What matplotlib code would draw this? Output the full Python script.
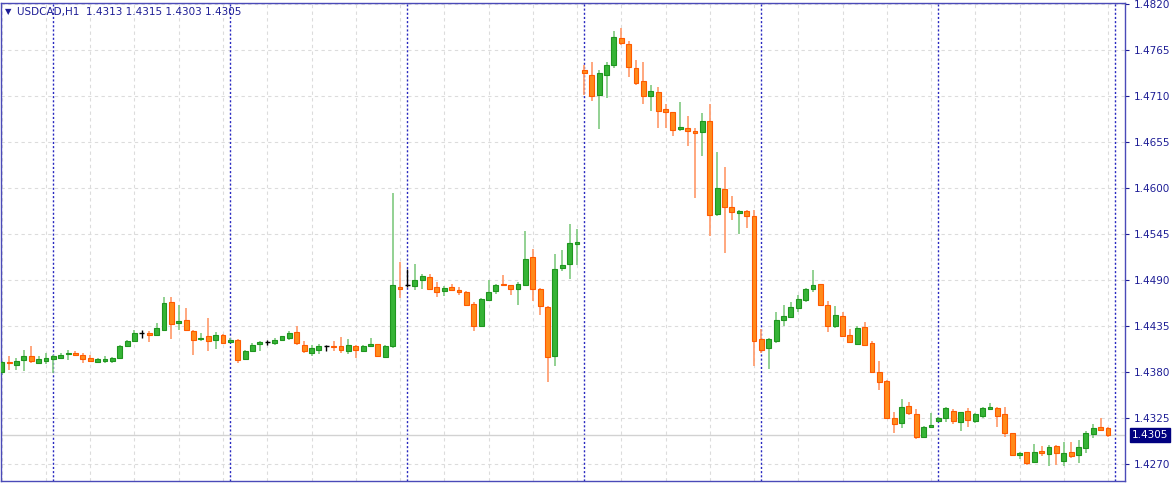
import numpy as np
import matplotlib
matplotlib.use("Agg")
from matplotlib import pyplot as plt

symbol = "USDCAD,H1"

opens = [
    1.4380, 1.4392, 1.4389, 1.4395, 1.4400, 1.4391, 1.4393, 1.4396, 1.4397, 1.4402,
    1.4403, 1.4401, 1.4397, 1.4392, 1.4394, 1.4393, 1.4397, 1.4411, 1.4417, 1.4427,
    1.4427, 1.4425, 1.4431, 1.4464, 1.4439, 1.4443, 1.4430, 1.4420, 1.4423, 1.4419,
    1.4425, 1.4416, 1.4419, 1.4396, 1.4406, 1.4414, 1.4416, 1.4415, 1.4419, 1.4421,
    1.4428, 1.4413, 1.4403, 1.4407, 1.4411, 1.4412, 1.4411, 1.4406, 1.4412, 1.4406,
    1.4412, 1.4414, 1.4398, 1.4412, 1.4482, 1.4485, 1.4483, 1.4491, 1.4494, 1.4482,
    1.4477, 1.4482, 1.4479, 1.4476, 1.4462, 1.4435, 1.4467, 1.4477, 1.4486, 1.4484,
    1.4480, 1.4485, 1.4518, 1.4480, 1.4458, 1.4400, 1.4505, 1.4509, 1.4534, 1.4742,
    1.4736, 1.4712, 1.4736, 1.4747, 1.4780, 1.4773, 1.4744, 1.4728, 1.4710, 1.4715,
    1.4695, 1.4691, 1.4671, 1.4672, 1.4668, 1.4667, 1.4680, 1.4569, 1.4599, 1.4578,
    1.4571, 1.4573, 1.4567, 1.4420, 1.4409, 1.4418, 1.4443, 1.4446, 1.4457, 1.4467,
    1.4480, 1.4486, 1.4461, 1.4435, 1.4447, 1.4425, 1.4414, 1.4434, 1.4415, 1.4381,
    1.4370, 1.4326, 1.4319, 1.4340, 1.4330, 1.4303, 1.4315, 1.4322, 1.4326, 1.4334,
    1.4321, 1.4334, 1.4322, 1.4328, 1.4336, 1.4337, 1.4330, 1.4307, 1.4281, 1.4285,
    1.4273, 1.4286, 1.4282, 1.4292, 1.4274, 1.4285, 1.4281, 1.4289, 1.4306, 1.4315,
    1.4313,
]
highs = [
    1.4393, 1.4399, 1.4397, 1.4407, 1.4411, 1.4399, 1.4403, 1.4401, 1.4403, 1.4407,
    1.4405, 1.4403, 1.4401, 1.4397, 1.4399, 1.4398, 1.4413, 1.4419, 1.4431, 1.4431,
    1.4430, 1.4439, 1.4470, 1.4470, 1.4460, 1.4457, 1.4431, 1.4427, 1.4445, 1.4428,
    1.4426, 1.4421, 1.4420, 1.4407, 1.4415, 1.4417, 1.4419, 1.4421, 1.4424, 1.4429,
    1.4435, 1.4417, 1.4413, 1.4414, 1.4413, 1.4417, 1.4422, 1.4420, 1.4413, 1.4413,
    1.4421, 1.4414, 1.4413, 1.4594, 1.4512, 1.4504, 1.4509, 1.4498, 1.4498, 1.4488,
    1.4483, 1.4486, 1.4482, 1.4477, 1.4464, 1.4469, 1.4490, 1.4486, 1.4496, 1.4485,
    1.4488, 1.4549, 1.4528, 1.4481, 1.4459, 1.4522, 1.4526, 1.4557, 1.4551, 1.4747,
    1.4751, 1.4742, 1.4751, 1.4788, 1.4792, 1.4776, 1.4753, 1.4751, 1.4724, 1.4721,
    1.4701, 1.4691, 1.4703, 1.4686, 1.4672, 1.4690, 1.4701, 1.4643, 1.4625, 1.4591,
    1.4574, 1.4574, 1.4574, 1.4432, 1.4421, 1.4452, 1.4460, 1.4464, 1.4472, 1.4481,
    1.4502, 1.4486, 1.4465, 1.4459, 1.4452, 1.4432, 1.4435, 1.4440, 1.4417, 1.4393,
    1.4371, 1.4332, 1.4348, 1.4344, 1.4336, 1.4316, 1.4331, 1.4327, 1.4338, 1.4336,
    1.4333, 1.4337, 1.4331, 1.4338, 1.4343, 1.4338, 1.4338, 1.4308, 1.4285, 1.4285,
    1.4294, 1.4292, 1.4293, 1.4293, 1.4297, 1.4297, 1.4299, 1.4310, 1.4318, 1.4326,
    1.4315,
]
lows = [
    1.4377, 1.4383, 1.4383, 1.4382, 1.4391, 1.4390, 1.4390, 1.4379, 1.4396, 1.4395,
    1.4400, 1.4391, 1.4392, 1.4391, 1.4391, 1.4391, 1.4396, 1.4410, 1.4416, 1.4421,
    1.4416, 1.4424, 1.4430, 1.4420, 1.4431, 1.4429, 1.4401, 1.4417, 1.4405, 1.4408,
    1.4414, 1.4415, 1.4391, 1.4395, 1.4404, 1.4405, 1.4413, 1.4413, 1.4418, 1.4419,
    1.4413, 1.4403, 1.4400, 1.4402, 1.4405, 1.4405, 1.4403, 1.4402, 1.4397, 1.4405,
    1.4410, 1.4398, 1.4397, 1.4409, 1.4469, 1.4482, 1.4479, 1.4480, 1.4479, 1.4470,
    1.4471, 1.4477, 1.4473, 1.4459, 1.4429, 1.4434, 1.4466, 1.4474, 1.4483, 1.4473,
    1.4460, 1.4484, 1.4465, 1.4449, 1.4368, 1.4388, 1.4501, 1.4492, 1.4508, 1.4712,
    1.4704, 1.4671, 1.4708, 1.4744, 1.4771, 1.4733, 1.4724, 1.4701, 1.4692, 1.4672,
    1.4672, 1.4663, 1.4668, 1.4651, 1.4589, 1.4639, 1.4543, 1.4567, 1.4523, 1.4562,
    1.4545, 1.4552, 1.4387, 1.4403, 1.4384, 1.4415, 1.4435, 1.4445, 1.4452, 1.4464,
    1.4476, 1.4459, 1.4428, 1.4433, 1.4422, 1.4415, 1.4413, 1.4412, 1.4380, 1.4359,
    1.4325, 1.4307, 1.4314, 1.4329, 1.4300, 1.4303, 1.4315, 1.4322, 1.4321, 1.4318,
    1.4310, 1.4315, 1.4319, 1.4326, 1.4335, 1.4315, 1.4303, 1.4280, 1.4277, 1.4269,
    1.4272, 1.4280, 1.4268, 1.4269, 1.4268, 1.4278, 1.4272, 1.4283, 1.4301, 1.4310,
    1.4303,
]
closes = [
    1.4392, 1.4391, 1.4394, 1.4399, 1.4393, 1.4396, 1.4397, 1.4399, 1.4401, 1.4403,
    1.4401, 1.4396, 1.4394, 1.4396, 1.4396, 1.4397, 1.4411, 1.4417, 1.4427, 1.4427,
    1.4425, 1.4433, 1.4463, 1.4438, 1.4441, 1.4431, 1.4419, 1.4421, 1.4418, 1.4425,
    1.4415, 1.4419, 1.4395, 1.4405, 1.4413, 1.4416, 1.4416, 1.4419, 1.4423, 1.4427,
    1.4415, 1.4405, 1.4409, 1.4411, 1.4411, 1.4410, 1.4407, 1.4413, 1.4407, 1.4411,
    1.4414, 1.4399, 1.4412, 1.4484, 1.4480, 1.4485, 1.4491, 1.4495, 1.4480, 1.4476,
    1.4481, 1.4478, 1.4476, 1.4460, 1.4435, 1.4468, 1.4476, 1.4484, 1.4484, 1.4480,
    1.4486, 1.4516, 1.4480, 1.4459, 1.4398, 1.4504, 1.4508, 1.4535, 1.4536, 1.4738,
    1.4711, 1.4738, 1.4747, 1.4781, 1.4774, 1.4745, 1.4726, 1.4711, 1.4716, 1.4693,
    1.4691, 1.4670, 1.4673, 1.4669, 1.4666, 1.4680, 1.4568, 1.4600, 1.4578, 1.4572,
    1.4573, 1.4567, 1.4417, 1.4407, 1.4420, 1.4443, 1.4447, 1.4458, 1.4468, 1.4480,
    1.4484, 1.4460, 1.4436, 1.4448, 1.4423, 1.4416, 1.4433, 1.4413, 1.4381, 1.4369,
    1.4326, 1.4318, 1.4339, 1.4331, 1.4303, 1.4315, 1.4317, 1.4326, 1.4337, 1.4322,
    1.4332, 1.4323, 1.4330, 1.4337, 1.4338, 1.4328, 1.4308, 1.4281, 1.4284, 1.4272,
    1.4285, 1.4283, 1.4291, 1.4284, 1.4284, 1.4280, 1.4291, 1.4307, 1.4314, 1.4311,
    1.4305,
]

price_ticks = [1.4270, 1.4325, 1.4380, 1.4435, 1.4490, 1.4545, 1.4600, 1.4655, 1.4710, 1.4765, 1.4820]
day_starts = [7, 31, 55, 79, 103, 127, 151]
grid_every = 6

FRAME = "#4a4ab8"
TEXT = "#1e1e96"
BULL, BULL_EDGE, BULL_WICK = "#36b436", "#1f951f", "#80ca80"
BEAR, BEAR_EDGE, BEAR_WICK = "#ff8a1a", "#ff5a00", "#ff9868"

o = np.array(opens)
h = np.array(highs)
l = np.array(lows)
c = np.array(closes)
x = np.arange(len(o))

fig = plt.figure(figsize=(11.75, 4.84), dpi=100)
ax = fig.add_axes([1 / 1175, 3 / 484, 1124 / 1175, 478 / 484])
ax.set_facecolor("white")

# grid
for p in price_ticks:
    ax.axhline(p, color="#dcdcdc", lw=0.8, ls=(0, (3, 3)), zorder=0)
for gx in range(0, len(o) + 2, grid_every):
    ax.axvline(gx, color="#dcdcdc", lw=0.8, ls=(0, (3, 3)), zorder=0)
for d in day_starts:
    ax.axvline(d, color="#2828c0", lw=1.0, ls=(0, (1.5, 1.5)), zorder=1)

# current price line
ax.axhline(c[-1], color="#d2d2d2", lw=1.0, zorder=1)

up = c > o
down = c < o
flat = c == o

ax.vlines(x[up], l[up], h[up], color=BULL_WICK, lw=1.2, zorder=2)
ax.vlines(x[down], l[down], h[down], color=BEAR_WICK, lw=1.2, zorder=2)
ax.vlines(x[flat], l[flat], h[flat], color="black", lw=1.0, zorder=2)

w = 0.66
ax.bar(x[up], (c - o)[up], bottom=o[up], width=w, color=BULL, edgecolor=BULL_EDGE, lw=0.8, zorder=3)
ax.bar(x[down], (o - c)[down], bottom=c[down], width=w, color=BEAR, edgecolor=BEAR_EDGE, lw=0.8, zorder=3)
ax.hlines(o[flat], x[flat] - w / 2, x[flat] + w / 2, color="black", lw=1.0, zorder=3)

ax.set_xlim(-0.1, 152.3)
ax.set_ylim(1.42501, 1.48216)

for s in ax.spines.values():
    s.set_color(FRAME)
    s.set_linewidth(1.0)

ax.set_xticks([])
ax.yaxis.tick_right()
ax.set_yticks(price_ticks)
ax.set_yticklabels([f"{p:.4f}" for p in price_ticks])
ax.tick_params(axis="y", colors=TEXT, labelcolor=TEXT, length=3, width=0.8, pad=3, labelsize=7.5)

# current price tag
ax.annotate(f"{c[-1]:.4f}", xy=(1.0, c[-1]), xycoords=("axes fraction", "data"),
            xytext=(5, 0), textcoords="offset points", va="center", ha="left",
            fontsize=7.5, color="white",
            bbox=dict(boxstyle="square,pad=0.2", fc="#000080", ec="#000080"))

header = f"{symbol}  {o[-1]:.4f} {h[-1]:.4f} {l[-1]:.4f} {c[-1]:.4f}"
ax.text(4 / 1124, 1 - 9 / 478, "\u25bc", transform=ax.transAxes, fontsize=6,
        color=TEXT, va="center", ha="left")
ax.text(16 / 1124, 1 - 9 / 478, header, transform=ax.transAxes, fontsize=7.5,
        color=TEXT, va="center", ha="left")

fig.savefig("out.png", dpi=100, facecolor="white")
